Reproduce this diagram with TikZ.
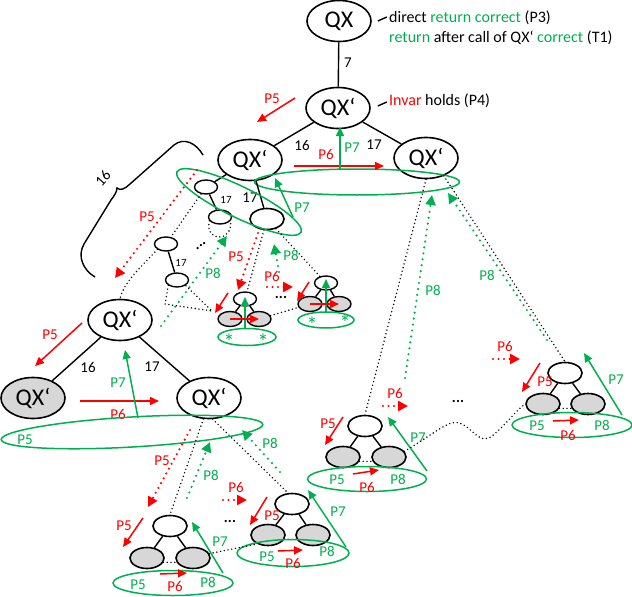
\documentclass[tikz,border=0pt]{standalone}
\usepackage{fontspec}
\setmainfont{Carlito}
\usepackage{tikz}
\usetikzlibrary{arrows.meta,shapes.geometric}
\definecolor{pred}{RGB}{255,0,0}
\definecolor{pgreen}{RGB}{0,176,80}
\definecolor{leafgray}{RGB}{215,215,215}

\begin{document}
\begin{tikzpicture}[x=1pt, y=-1pt,
        qxnode/.style={draw, ellipse, line width=1.6pt, fill=white,
                       minimum width=64pt, minimum height=41pt, inner sep=0pt,
                       font=\fontsize{24}{24}\selectfont},
        knot/.style={draw, ellipse, line width=1.6pt, fill=white,
                     minimum width=34pt, minimum height=21pt, inner sep=0pt},
        tiny/.style={draw, ellipse, line width=1.4pt, fill=white,
                     minimum width=23pt, minimum height=14pt, inner sep=0pt},
        done/.style={fill=leafgray},
        grp/.style={draw=pgreen, ellipse, line width=1.5pt, inner sep=0pt},
        tedge/.style={line width=1.4pt},
        rarr/.style={-{Triangle[length=9pt,width=8pt]}, pred, line width=1.5pt},
        garr/.style={-{Triangle[length=9pt,width=8pt]}, pgreen, line width=1.5pt},
        rdot/.style={-{Triangle[length=10pt,width=10pt]}, pred, line width=2.4pt,
                     line cap=round, dash pattern=on 0pt off 5.5pt},
        gdot/.style={-{Triangle[length=10pt,width=10pt]}, pgreen, line width=2.4pt,
                     line cap=round, dash pattern=on 0pt off 6pt},
        bdot/.style={line width=1.6pt, line cap=round, dash pattern=on 0pt off 3.8pt},
        lbl/.style={font=\fontsize{15}{15}\selectfont, inner sep=0pt},
        note/.style={font=\fontsize{16}{16}\selectfont, inner sep=0pt, anchor=west},
        rl/.style={lbl, text=pred},
        gl/.style={lbl, text=pgreen},
        num/.style={font=\fontsize{15}{15}\selectfont, inner sep=0pt},
        snum/.style={font=\fontsize{11}{11}\selectfont, inner sep=0pt},
        star/.style={font=\fontsize{22}{22}\selectfont, text=pgreen, inner sep=0pt, anchor=base},
        dots/.style={font=\bfseries\fontsize{15}{15}\selectfont, inner sep=0pt}
      ]
  \useasboundingbox (0,0) rectangle (632,597);

  % top of the call tree
  \node[qxnode] (qx)  at (339,21)  {QX};
  \node[qxnode] (qxa) at (338,108) {QX‘};
  \node[qxnode] (qxl) at (250,160) {QX‘};
  \node[qxnode] (qxr) at (426,158) {QX‘};
  \draw[tedge] (qx) -- (qxa);
  \draw[tedge] (qxa) -- (qxl);
  \draw[tedge] (qxa) -- (qxr);
  \node[num] (e7)   at (348,63)  {7};
  \node[num] (e16a) at (302,145) {16};
  \node[num] (e17a) at (374,145) {17};

  % notes
  \draw[tedge] ([xshift=6pt]qx.east) -- ++(9,-4);
  \node[note] (note1) at (389,18) {direct \textcolor{pgreen}{return correct} (P3)};
  \node[note] (note2) at (389,38) {\textcolor{pgreen}{return} after call of QX‘ \textcolor{pgreen}{correct} (T1)};
  \draw[tedge] ([xshift=7pt,yshift=2pt]qxa.east) -- ++(9,-4);
  \node[note] (note3) at (389,101) {\textcolor{pred}{Invar} holds (P4)};

  \draw[rarr] (295,98) -- (257,122);
  \node[rl] (p5a) at (272,99) {P5};
  \node[grp, minimum width=205pt, minimum height=26pt] (hg) at (357,182) {};
  \draw[rarr] (294,166) -- (384,166);
  \node[rl] (p6a) at (326,154) {P6};
  \draw[garr] (340,169) -- (340,127);
  \node[gl] (p7a) at (352,148) {P7};

  % left branch, unfolded
  \node[tiny] (n1) at (206,187) {};
  \node[tiny] (n2) at (220,217) {};
  \node[knot] (n3) at (267,219) {};
  \draw[tedge] (qxl) -- (n1);
  \draw[tedge] (n1) -- (n2);
  \draw[tedge] (qxl) -- (n3);
  \node[snum] (e17b) at (226,200) {17};
  \node[num]  (e17c) at (250,198) {17};
  \node[grp, minimum width=138pt, minimum height=31pt, rotate=-26] (tg) at (239,202) {};
  \draw[garr] (293,217) -- (275,178);
  \node[gl] (p7b) at (302,208) {P7};

  % brace
  \draw[tedge] (203,155) .. controls (196,143) and (184,137) .. (174,145)
    -- (130,184) .. controls (125,189) and (120,191) .. (117,188)
    .. controls (117,192) and (114,196) .. (111,200)
    -- (84,244) .. controls (77,256) and (83,270) .. (95,277);
  \node[num, rotate=48] (b16) at (103,178) {16};
  \draw[rdot] (197,170) -- (115,278);
  \node[rl] (p5b) at (147,217) {P5};

  \node[tiny] (n4) at (166,244) {};
  \node[tiny] (n5) at (177,280) {};
  \draw[tedge] (n4) -- (n5);
  \node[snum] (e17d) at (181,263) {17};
  \draw[bdot] (n1) -- (n4);
  \draw[bdot] (n2.200) .. controls (204,242) and (233,243) .. (n2.-20);
  \node[dots, rotate=33] (dd1) at (201,246) {...};
  \draw[bdot] (n5.south west) -- (165,304) -- (212,311) -- (n5.south east);
  \draw[gdot] (161,326) -- (227,236);
  \node[gl] (p8a) at (213,273) {P8};

  % small trees under n3
  \node[tiny] (ta) at (245,299) {};
  \node[tiny, done, minimum width=24pt, minimum height=15pt] (ta1) at (230,319) {};
  \node[tiny, done, minimum width=24pt, minimum height=15pt] (ta2) at (259,319) {};
  \draw[tedge] (ta) -- (ta1);
  \draw[tedge] (ta) -- (ta2);
  \node[grp, minimum width=58pt, minimum height=17pt] (tag) at (247,337) {};
  \node[star] (sa1) at (229,349) {*};
  \node[star] (sa2) at (263,349) {*};
  \draw[garr] (245,328) -- (245,297);
  \draw[rarr] (ta1.center) -- (ta2.center);
  \draw[rarr] (228,293) -- (215,313);

  \node[tiny] (tb) at (326,283) {};
  \node[tiny, done, minimum width=24pt, minimum height=15pt] (tb1) at (310,304) {};
  \node[tiny, done, minimum width=24pt, minimum height=15pt] (tb2) at (339,304) {};
  \draw[tedge] (tb) -- (tb1);
  \draw[tedge] (tb) -- (tb2);
  \node[grp, minimum width=56pt, minimum height=16pt] (tbg) at (326,320) {};
  \node[star] (sb1) at (312,332) {*};
  \node[star] (sb2) at (345,330) {*};
  \draw[garr] (326,312) -- (326,279);
  \draw[rarr] (tb1.center) -- (tb2.center);
  \draw[rarr] (309,282) -- (297,301);

  \draw[bdot] (ta2) -- (tb1);
  \draw[bdot] (n3) -- (ta);
  \draw[bdot] (n3) -- (tb);
  \draw[rdot] (258,233) -- (238,290);
  \node[rl] (p5c) at (236,257) {P5};
  \draw[rdot] (267,287) -- (293,287);
  \node[rl] (p6b) at (272,276) {P6};
  \draw[gdot] (279,272) -- (274,244);
  \node[gl] (p8b) at (291,255) {P8};
  \node[dots] (dd2) at (281,297) {...};

  % middle level
  \node[qxnode] (qxm)  at (120,320) {QX‘};
  \node[qxnode, done] (qxg) at (33,398) {QX‘};
  \node[qxnode] (qxm2) at (209,398) {QX‘};
  \draw[tedge] (qxm) -- (qxg);
  \draw[tedge] (qxm) -- (qxm2);
  \node[num] (e16b) at (88,367) {16};
  \node[num] (e17e) at (152,367) {17};
  \draw[bdot] (n4.south west) .. controls (140,268) and (124,282) .. (qxm.north);
  \draw[rarr] (82,323) -- (35,366);
  \node[rl] (p5d) at (50,335) {P5};
  \draw[rarr] (80,401) -- (159,401);
  \node[rl] (p6c) at (118,414) {P6};
  \node[grp, minimum width=262pt, minimum height=30pt, rotate=3.3] (mg) at (132,432) {};
  \draw[garr] (138,418) -- (125,350);
  \node[gl] (p7c) at (118,383) {P7};
  \node[gl] (p5e) at (25,440) {P5};

  % lower trees
  \node[knot] (tc) at (170,526) {};
  \node[knot, done] (tc1) at (147,558) {};
  \node[knot, done] (tc2) at (193,558) {};
  \draw[tedge] (tc) -- (tc1);
  \draw[tedge] (tc) -- (tc2);
  \draw[bdot] (tc1.-15) -- (tc2.195);
  \node[grp, minimum width=120pt, minimum height=25pt] (tcg) at (173,583) {};
  \node[gl] (p5f) at (138,585) {P5};
  \node[rl] (p6d) at (175,586) {P6};
  \node[gl] (p8c) at (208,582) {P8};
  \draw[rarr] (160,574) -- (187,573);
  \draw[garr] (223,573) -- (192,522);
  \node[gl] (p7d) at (220,542) {P7};
  \draw[rarr] (143,518) -- (123,547);
  \node[rl] (p5g) at (124,526) {P5};

  \node[knot] (td) at (292,504) {};
  \node[knot, done] (td1) at (268,535) {};
  \node[knot, done] (td2) at (313,535) {};
  \draw[tedge] (td) -- (td1);
  \draw[tedge] (td) -- (td2);
  \draw[bdot] (td1.-15) -- (td2.195);
  \node[grp, minimum width=112pt, minimum height=27pt] (tdg) at (293,553) {};
  \node[gl] (p5h) at (267,557) {P5};
  \node[rl] (p6e) at (293,563) {P6};
  \node[gl] (p8d) at (327,551) {P8};
  \draw[rarr] (278,551) -- (303,550);
  \draw[garr] (346,547) -- (308,490);
  \node[gl] (p7e) at (338,512) {P7};
  \draw[rarr] (267,497) -- (250,525);
  \node[rl] (p5i) at (272,516) {P5};
  \draw[rdot] (223,500) -- (247,500);
  \node[rl] (p6f) at (236,487) {P6};
  \node[dots] (dd3) at (230,521) {...};
  \draw[bdot] (tc2.15) -- (td1.220);

  \draw[bdot] (qxm2.-105) -- (tc.north);
  \draw[bdot] (qxm2.-80) -- (td.110);
  \draw[rdot] (190,430) -- (148,507);
  \node[rl] (p5j) at (162,461) {P5};
  \draw[gdot] (187,498) -- (210,442);
  \node[gl] (p8e) at (211,475) {P8};
  \draw[gdot] (280,472) -- (242,430);
  \node[gl] (p8f) at (270,443) {P8};

  \node[knot] (te) at (365,426) {};
  \node[knot, done] (te1) at (343,457) {};
  \node[knot, done] (te2) at (389,457) {};
  \draw[tedge] (te) -- (te1);
  \draw[tedge] (te) -- (te2);
  \draw[bdot] (te1.-15) -- (te2.195);
  \node[grp, minimum width=119pt, minimum height=25pt] (teg) at (367,479) {};
  \node[gl] (p5k) at (337,480) {P5};
  \node[rl] (p6g) at (367,487) {P6};
  \node[gl] (p8g) at (398,479) {P8};
  \draw[rarr] (353,474) -- (379,470);
  \draw[garr] (427,471) -- (388,417);
  \node[gl] (p7f) at (418,438) {P7};
  \draw[rarr] (343,417) -- (325,445);
  \node[rl] (p5l) at (328,424) {P5};
  \draw[rdot] (383,406) -- (408,406);
  \node[rl] (p6h) at (395,393) {P6};
  \node[dots] (dd4) at (458,401) {...};

  \node[knot] (tf) at (565,373) {};
  \node[knot, done] (tf1) at (543,404) {};
  \node[knot, done] (tf2) at (588,404) {};
  \draw[tedge] (tf) -- (tf1);
  \draw[tedge] (tf) -- (tf2);
  \draw[bdot] (tf1.-15) -- (tf2.195);
  \node[grp, minimum width=120pt, minimum height=25pt] (tfg) at (572,425) {};
  \node[gl] (p5m) at (537,426) {P5};
  \node[rl] (p6i) at (568,435) {P6};
  \node[gl] (p8h) at (602,425) {P8};
  \draw[rarr] (553,421) -- (579,420);
  \draw[garr] (622,415) -- (584,353);
  \node[gl] (p7g) at (616,380) {P7};
  \draw[rarr] (540,363) -- (522,392);
  \node[rl] (p5n) at (545,382) {P5};
  \draw[rdot] (493,359) -- (520,359);
  \node[rl] (p6j) at (505,346) {P6};

  \draw[bdot] (te2.20) .. controls (440,430) and (450,418) .. (462,424)
    .. controls (474,430) and (480,445) .. (492,436)
    .. controls (505,426) and (515,411) .. (tf1.west);
  \draw[bdot] (qxr.south) -- (te.north);
  \draw[bdot] (qxr.-45) -- (tf.north);
  \draw[gdot] (405,378) -- (432,195);
  \node[gl] (p8i) at (433,290) {P8};
  \draw[gdot] (547,340) -- (448,193);
  \node[gl] (p8j) at (487,275) {P8};
\end{tikzpicture}
\end{document}
